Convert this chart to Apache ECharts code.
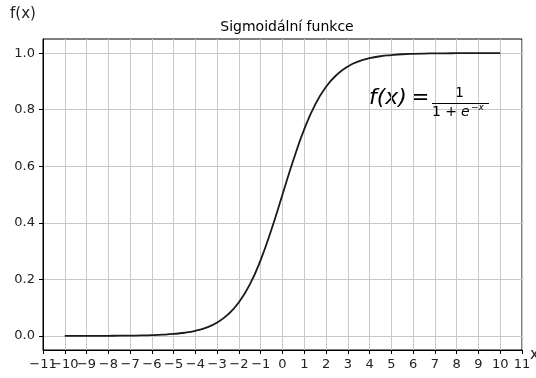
<!DOCTYPE html>
<html>
<head>
<meta charset="utf-8">
<script src="https://cdn.jsdelivr.net/npm/echarts@6/dist/echarts.min.js"></script>
<style>
  html, body { margin: 0; padding: 0; background: #fff; }
  #chart { width: 536px; height: 378px; }
</style>
</head>
<body>
<div id="chart"></div>
<script>
// values
const xValues = [-10, -9.5, -9, -8.5, -8, -7.5, -7, -6.5, -6, -5.5, -5, -4.5, -4, -3.5, -3, -2.5, -2, -1.5, -1, -0.5,
  0, 0.5, 1, 1.5, 2, 2.5, 3, 3.5, 4, 4.5, 5, 5.5, 6, 6.5, 7, 7.5, 8, 8.5, 9, 9.5, 10];
const fValues = [0.0000, 0.0001, 0.0001, 0.0002, 0.0003, 0.0006, 0.0009, 0.0015, 0.0025, 0.0041, 0.0067, 0.011, 0.018,
  0.029, 0.047, 0.076, 0.119, 0.182, 0.269, 0.378, 0.5, 0.622, 0.731, 0.818, 0.881, 0.924, 0.953, 0.971, 0.982,
  0.989, 0.993, 0.996, 0.9975, 0.9985, 0.9991, 0.9994, 0.9997, 0.9998, 0.9999, 0.9999, 1.0];
// -11 and -10 labels overlap in the original, so they go on two axes sharing the scale
const xTicksA = [-11, -9, -8, -7, -6, -5, -4, -3, -2, -1, 0, 1, 2, 3, 4, 5, 6, 7, 8, 9, 10, 11];
const xTicksB = [-10];
const yTicks = [0, 0.2, 0.4, 0.6, 0.8, 1.0];

const font = "DejaVu Sans";
const chart = echarts.init(document.getElementById("chart"), null, { renderer: "canvas" });

const xLabel = (values) => ({
  fontFamily: font, fontSize: 13, color: "#222", margin: 8,
  customValues: values,
  showMinLabel: true, showMaxLabel: true, hideOverlap: false,
  formatter: (v) => String(v).replace("-", "\u2212"),
});

chart.setOption({
  animation: false,
  backgroundColor: "#fff",
  title: {
    text: "Sigmoidální funkce",
    left: 282,
    textAlign: "center",
    top: 15,
    textStyle: { fontFamily: font, fontSize: 14, fontWeight: "normal", color: "#000" },
  },
  grid: {
    left: 43, right: 14, top: 39, bottom: 28,
    show: true, borderColor: "#000", borderWidth: 1,
  },
  xAxis: [
    {
      type: "value",
      min: -11, max: 11, interval: 1,
      axisLine: { show: true, onZero: false, lineStyle: { color: "#000" } },
      axisTick: { show: true, length: 4, lineStyle: { color: "#000" } },
      axisLabel: xLabel(xTicksA),
      splitLine: { show: true, lineStyle: { color: "#c8c8c8", width: 1 } },
    },
    {
      type: "value",
      position: "bottom",
      min: -11, max: 11, interval: 1,
      axisLine: { show: false, onZero: false },
      axisTick: { show: false },
      axisLabel: xLabel(xTicksB),
      splitLine: { show: false },
    },
  ],
  yAxis: {
    type: "value",
    min: -0.05, max: 1.05,
    axisLine: { show: true, onZero: false, lineStyle: { color: "#000" } },
    axisTick: { show: true, length: 4, customValues: yTicks, lineStyle: { color: "#000" } },
    axisLabel: {
      fontFamily: font, fontSize: 13, color: "#222", margin: 8,
      customValues: yTicks,
      formatter: (v) => v.toFixed(1),
    },
    splitLine: { show: true, lineStyle: { color: "#c8c8c8", width: 1 } },
  },
  graphic: [
    { type: "text", left: 10, top: 7, style: { text: "f(x)", font: `15px ${font}`, fill: "#222" } },
    { type: "text", left: 530, top: 348, style: { text: "x", font: `15px ${font}`, fill: "#222" } },
    { type: "text", left: 369, top: 87, style: { text: "f(x)", font: `italic 22px ${font}`, fill: "#000" } },
    { type: "text", left: 411, top: 87, style: { text: "=", font: `22px ${font}`, fill: "#000" } },
    { type: "text", left: 455, top: 86, style: { text: "1", font: `14px ${font}`, fill: "#000" } },
    { type: "line", z: 10, shape: { x1: 432, y1: 103.5, x2: 489, y2: 103.5 }, style: { stroke: "#000", lineWidth: 1 } },
    { type: "text", z: 10, left: 432, top: 105, style: { text: "1 + ", font: `14px ${font}`, fill: "#000" } },
    { type: "text", z: 10, left: 461, top: 105, style: { text: "e", font: `italic 14px ${font}`, fill: "#000" } },
    { type: "text", z: 10, left: 471, top: 103, style: { text: "\u2212x", font: `italic 9px ${font}`, fill: "#000" } },
  ],
  series: [
    {
      type: "line",
      smooth: true,
      showSymbol: false,
      lineStyle: { color: "#1a1a1a", width: 1.8 },
      data: xValues.map((x, i) => [x, fValues[i]]),
    },
  ],
});
</script>
</body>
</html>
